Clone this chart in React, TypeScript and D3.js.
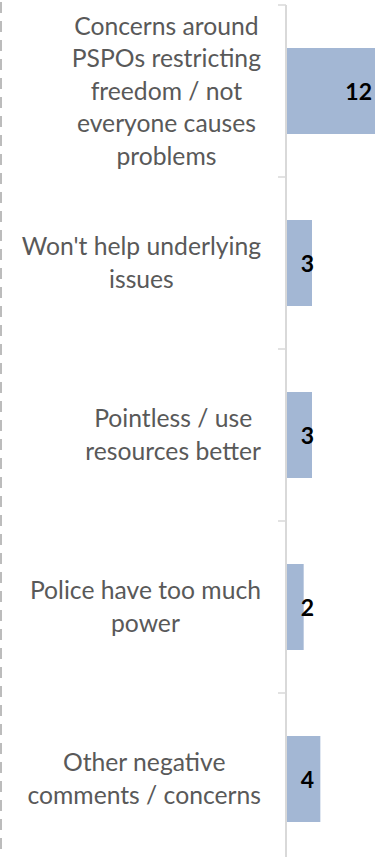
import React, { useEffect, useRef } from 'react';
import * as d3 from 'd3';

const categories = [
  "Concerns around\nPSPOs restricting\nfreedom / not\neveryone causes\nproblems",
  "Won't help underlying\nissues",
  "Pointless / use\nresources better",
  "Police have too much\npower",
  "Other negative\ncomments / concerns",
];
const values = [12, 3, 3, 2, 4];
const xDomain = [0, 12];

const W = 375;
const H = 857;

export default function App() {
  const ref = useRef<SVGSVGElement>(null);

  useEffect(() => {
    const svg = d3.select(ref.current);
    svg.selectAll('*').remove();

    const y = d3.scaleBand<string>().domain(categories).range([5, 865]).paddingInner(0.5).paddingOuter(0.25);
    const x = d3.scaleLinear().domain(xDomain).range([287, 387]);
    const step = y.step();
    const y0 = y.range()[0];

    // dashed frame line at the left
    svg.append('line')
      .attr('x1', 1).attr('x2', 1).attr('y1', 2).attr('y2', H)
      .attr('stroke', '#a6a6a6').attr('stroke-width', 1.5).attr('stroke-dasharray', '11 8');

    // bars
    svg.selectAll('rect.bar').data(values).enter().append('rect')
      .attr('class', 'bar')
      .attr('x', x(0))
      .attr('y', (_, i) => y(categories[i])!)
      .attr('width', d => x(d) - x(0))
      .attr('height', y.bandwidth())
      .attr('fill', '#a3b7d4');

    // axis line
    svg.append('line')
      .attr('x1', 286).attr('x2', 286).attr('y1', y0).attr('y2', H + 10)
      .attr('stroke', '#d9d9d9').attr('stroke-width', 2);
    // ticks at band boundaries
    const tickYs = d3.range(categories.length + 1).map(i => y0 + i * step);
    svg.selectAll('line.tick').data(tickYs).enter().append('line')
      .attr('class', 'tick')
      .attr('x1', 278).attr('x2', 286)
      .attr('y1', d => d).attr('y2', d => d)
      .attr('stroke', '#d9d9d9').attr('stroke-width', 1.5);

    // category labels
    const lh = 32.5;
    const rightEdge = 261;
    categories.forEach((c) => {
      const lines = c.split('\n');
      const g = svg.append('g');
      const cy = y(c)! + y.bandwidth() / 2;
      const texts = g.selectAll('text').data(lines).enter().append('text')
        .attr('font-family', 'Lato, sans-serif')
        .attr('font-size', 24.7)
        .attr('fill', '#595959')
        .attr('text-anchor', 'middle')
        .attr('dominant-baseline', 'central')
        .attr('y', (_, i) => cy - 1 + (i - (lines.length - 1) / 2) * lh)
        .text(d => d);
      let maxW = 0;
      texts.each(function () {
        maxW = Math.max(maxW, (this as SVGTextElement).getComputedTextLength());
      });
      texts.attr('x', rightEdge - maxW / 2);
    });

    // value labels
    svg.selectAll('text.val').data(values).enter().append('text')
      .attr('class', 'val')
      .attr('font-family', 'Lato, sans-serif')
      .attr('font-weight', 'bold')
      .attr('font-size', 23)
      .attr('fill', '#000')
      .attr('text-anchor', 'end')
      .attr('dominant-baseline', 'central')
      .attr('x', d => Math.max(x(d) - 15, x(0) + 27))
      .attr('y', (_, i) => y(categories[i])! + y.bandwidth() / 2)
      .text(d => String(d));
  }, []);

  return (
    <svg
      ref={ref}
      width={W}
      height={H}
      style={{ position: 'absolute', left: 0, top: 0, background: '#fff' }}
    />
  );
}
